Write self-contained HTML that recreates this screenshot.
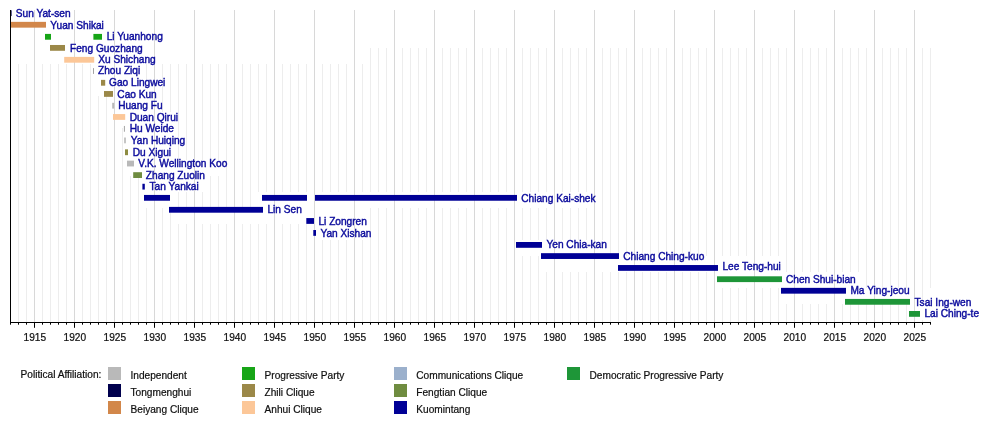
<!DOCTYPE html>
<html><head><meta charset="utf-8"><title>Timeline</title>
<style>
html,body{margin:0;padding:0;background:#fff;}
svg{display:block;}
text{font-family:"Liberation Sans",sans-serif;font-size:10.15px;}
.n{fill:#0b0b9c;stroke:#0b0b9c;stroke-width:0.42px;}
.k{fill:#0e0e0e;stroke:#0e0e0e;stroke-width:0.2px;}
</style></head><body>
<svg width="1000" height="422" viewBox="0 0 1000 422">
<rect width="1000" height="422" fill="#fff"/>
<path d="M18.5 64V322.5M26.5 64V322.5M42.5 64V322.5M50.5 64V322.5M58.5 64V322.5M66.5 64V322.5M82.5 64V322.5M90.5 64V322.5M98.5 96V322.5M106.5 96V322.5M122.5 128V322.5M130.5 176V322.5M138.5 176V322.5M146.5 64V80M146.5 208V322.5M162.5 64V112M162.5 208V322.5M170.5 64V112M170.5 208V322.5M178.5 64V160M178.5 192V208M178.5 224V322.5M186.5 64V160M186.5 192V208M186.5 224V322.5M202.5 64V160M202.5 192V208M202.5 224V322.5M210.5 64V160M210.5 176V208M210.5 224V322.5M218.5 64V160M218.5 176V208M218.5 224V322.5M226.5 64V208M226.5 224V322.5M242.5 64V208M242.5 224V322.5M250.5 64V208M250.5 224V322.5M258.5 64V192M258.5 224V322.5M266.5 64V192M266.5 224V322.5M282.5 64V192M282.5 224V322.5M290.5 64V192M290.5 224V322.5M298.5 64V192M298.5 224V322.5M306.5 64V192M306.5 224V322.5M322.5 64V192M322.5 240V322.5M330.5 64V192M330.5 240V322.5M338.5 64V192M338.5 240V322.5M346.5 64V192M346.5 240V322.5M362.5 64V192M362.5 240V322.5M370.5 48V192M370.5 208V322.5M378.5 48V192M378.5 208V322.5M386.5 48V192M386.5 208V322.5M402.5 48V192M402.5 208V322.5M410.5 48V192M410.5 208V322.5M418.5 48V192M418.5 208V322.5M426.5 48V192M426.5 208V322.5M442.5 48V192M442.5 208V322.5M450.5 48V192M450.5 208V322.5M458.5 48V192M458.5 208V322.5M466.5 48V192M466.5 208V322.5M482.5 48V192M482.5 208V322.5M490.5 48V192M490.5 208V322.5M498.5 48V192M498.5 208V322.5M506.5 48V192M506.5 208V322.5M522.5 48V192M522.5 208V240M522.5 256V322.5M530.5 48V192M530.5 208V240M530.5 256V322.5M538.5 48V192M538.5 208V240M538.5 256V322.5M546.5 48V192M546.5 208V240M546.5 272V322.5M562.5 48V192M562.5 208V240M562.5 272V322.5M570.5 48V192M570.5 208V240M570.5 272V322.5M578.5 48V192M578.5 208V240M578.5 272V322.5M586.5 48V192M586.5 208V240M586.5 272V322.5M602.5 48V240M602.5 272V322.5M610.5 48V256M610.5 272V322.5M618.5 48V256M618.5 272V322.5M626.5 48V256M626.5 272V322.5M642.5 48V256M642.5 272V322.5M650.5 48V256M650.5 272V322.5M658.5 48V256M658.5 272V322.5M666.5 48V256M666.5 272V322.5M682.5 48V256M682.5 272V322.5M690.5 48V256M690.5 272V322.5M698.5 48V256M698.5 272V322.5M706.5 48V256M706.5 272V322.5M722.5 48V256M722.5 288V322.5M730.5 48V256M730.5 288V322.5M738.5 48V256M738.5 288V322.5M746.5 48V256M746.5 288V322.5M762.5 48V256M762.5 288V322.5M770.5 48V256M770.5 288V322.5M778.5 48V256M778.5 288V322.5M786.5 48V272M786.5 304V322.5M802.5 48V272M802.5 304V322.5M810.5 48V272M810.5 304V322.5M818.5 48V272M818.5 304V322.5M826.5 48V272M826.5 304V322.5M842.5 48V272M842.5 304V322.5M850.5 48V272M850.5 304V322.5M858.5 48V272M858.5 304V322.5M866.5 48V288M866.5 304V322.5M882.5 48V288M882.5 304V322.5M890.5 48V288M890.5 304V322.5M898.5 48V288M898.5 304V322.5M906.5 48V288M906.5 304V322.5M922.5 48V304M922.5 320V322.5M930.5 48V288M930.5 320V322.5" stroke="#ededed" stroke-width="1" fill="none"/>
<g><line x1="34.50" y1="10.0" x2="34.50" y2="322.5" stroke="#d8d8d8" stroke-width="1"/>
<line x1="74.50" y1="10.0" x2="74.50" y2="322.5" stroke="#d8d8d8" stroke-width="1"/>
<line x1="114.50" y1="10.0" x2="114.50" y2="322.5" stroke="#d8d8d8" stroke-width="1"/>
<line x1="154.50" y1="10.0" x2="154.50" y2="322.5" stroke="#d8d8d8" stroke-width="1"/>
<line x1="194.50" y1="10.0" x2="194.50" y2="322.5" stroke="#d8d8d8" stroke-width="1"/>
<line x1="234.50" y1="10.0" x2="234.50" y2="322.5" stroke="#d8d8d8" stroke-width="1"/>
<line x1="274.50" y1="10.0" x2="274.50" y2="322.5" stroke="#d8d8d8" stroke-width="1"/>
<line x1="314.50" y1="10.0" x2="314.50" y2="322.5" stroke="#d8d8d8" stroke-width="1"/>
<line x1="354.50" y1="10.0" x2="354.50" y2="322.5" stroke="#d8d8d8" stroke-width="1"/>
<line x1="394.50" y1="10.0" x2="394.50" y2="322.5" stroke="#d8d8d8" stroke-width="1"/>
<line x1="434.50" y1="10.0" x2="434.50" y2="322.5" stroke="#d8d8d8" stroke-width="1"/>
<line x1="474.50" y1="10.0" x2="474.50" y2="322.5" stroke="#d8d8d8" stroke-width="1"/>
<line x1="514.50" y1="10.0" x2="514.50" y2="322.5" stroke="#d8d8d8" stroke-width="1"/>
<line x1="554.50" y1="10.0" x2="554.50" y2="322.5" stroke="#d8d8d8" stroke-width="1"/>
<line x1="594.50" y1="10.0" x2="594.50" y2="322.5" stroke="#d8d8d8" stroke-width="1"/>
<line x1="634.50" y1="10.0" x2="634.50" y2="322.5" stroke="#d8d8d8" stroke-width="1"/>
<line x1="674.50" y1="10.0" x2="674.50" y2="322.5" stroke="#d8d8d8" stroke-width="1"/>
<line x1="714.50" y1="10.0" x2="714.50" y2="322.5" stroke="#d8d8d8" stroke-width="1"/>
<line x1="754.50" y1="10.0" x2="754.50" y2="322.5" stroke="#d8d8d8" stroke-width="1"/>
<line x1="794.50" y1="10.0" x2="794.50" y2="322.5" stroke="#d8d8d8" stroke-width="1"/>
<line x1="834.50" y1="10.0" x2="834.50" y2="322.5" stroke="#d8d8d8" stroke-width="1"/>
<line x1="874.50" y1="10.0" x2="874.50" y2="322.5" stroke="#d8d8d8" stroke-width="1"/>
<line x1="914.50" y1="10.0" x2="914.50" y2="322.5" stroke="#d8d8d8" stroke-width="1"/></g>
<rect x="10.30" y="10.28" width="1.30" height="5.8" fill="#00004d"/>
<text class="n" x="15.85" y="16.85">Sun Yat-sen</text>
<rect x="10.80" y="21.85" width="35.20" height="5.8" fill="#d2874a"/>
<text class="n" x="50.35" y="28.78">Yuan Shikai</text>
<rect x="45.00" y="33.91" width="6.00" height="5.8" fill="#17a517"/>
<rect x="93.40" y="33.91" width="8.60" height="5.8" fill="#17a517"/>
<text class="n" x="106.65" y="39.91">Li Yuanhong</text>
<rect x="50.00" y="44.98" width="15.00" height="5.8" fill="#9b8848"/>
<text class="n" x="70.05" y="52.34">Feng Guozhang</text>
<rect x="64.20" y="56.89" width="30.00" height="5.8" fill="#fcc798"/>
<text class="n" x="98.25" y="63.17">Xu Shichang</text>
<rect x="93.00" y="68.11" width="1.00" height="5.8" fill="#a4a4a4"/>
<text class="n" x="98.05" y="74.30">Zhou Ziqi</text>
<rect x="101.00" y="79.88" width="4.20" height="5.8" fill="#9b8848"/>
<text class="n" x="109.05" y="85.63">Gao Lingwei</text>
<rect x="104.00" y="91.04" width="9.00" height="5.8" fill="#9b8848"/>
<text class="n" x="117.35" y="97.56">Cao Kun</text>
<rect x="112.20" y="102.81" width="2.00" height="5.8" fill="#b9b9b9"/>
<text class="n" x="118.15" y="108.59">Huang Fu</text>
<rect x="113.00" y="114.07" width="12.20" height="5.8" fill="#fcc798"/>
<text class="n" x="129.65" y="120.62">Duan Qirui</text>
<rect x="123.90" y="125.94" width="1.00" height="5.8" fill="#a4a4a4"/>
<text class="n" x="129.65" y="132.15">Hu Weide</text>
<rect x="124.20" y="137.51" width="1.60" height="5.8" fill="#b9b9b9"/>
<text class="n" x="130.85" y="143.68">Yan Huiqing</text>
<rect x="125.00" y="149.37" width="3.00" height="5.8" fill="#8e8c42"/>
<text class="n" x="132.75" y="156.21">Du Xigui</text>
<rect x="127.00" y="160.64" width="7.00" height="5.8" fill="#b9b9b9"/>
<text class="n" x="138.35" y="166.74">V.K. Wellington Koo</text>
<rect x="133.20" y="172.20" width="8.80" height="5.8" fill="#6f8c40"/>
<text class="n" x="145.85" y="179.27">Zhang Zuolin</text>
<rect x="142.40" y="183.77" width="2.40" height="5.8" fill="#000096"/>
<text class="n" x="149.55" y="190.10">Tan Yankai</text>
<rect x="144.00" y="194.94" width="26.00" height="5.8" fill="#000096"/>
<rect x="262.00" y="194.94" width="45.00" height="5.8" fill="#000096"/>
<rect x="315.00" y="194.94" width="202.00" height="5.8" fill="#000096"/>
<text class="n" x="521.25" y="201.63">Chiang Kai-shek</text>
<rect x="169.00" y="206.90" width="94.00" height="5.8" fill="#000096"/>
<text class="n" x="267.45" y="212.66">Lin Sen</text>
<rect x="306.30" y="218.07" width="7.70" height="5.8" fill="#000096"/>
<text class="n" x="318.45" y="225.09">Li Zongren</text>
<rect x="313.30" y="230.03" width="2.70" height="5.8" fill="#000096"/>
<text class="n" x="320.45" y="236.62">Yan Xishan</text>
<rect x="516.00" y="242.00" width="26.00" height="5.8" fill="#000096"/>
<text class="n" x="546.45" y="248.15">Yen Chia-kan</text>
<rect x="541.00" y="253.17" width="78.00" height="5.8" fill="#000096"/>
<text class="n" x="623.25" y="259.58">Chiang Ching-kuo</text>
<rect x="618.00" y="265.03" width="100.00" height="5.8" fill="#000096"/>
<text class="n" x="722.45" y="270.31">Lee Teng-hui</text>
<rect x="717.00" y="276.30" width="65.00" height="5.8" fill="#1e9638"/>
<text class="n" x="785.95" y="283.04">Chen Shui-bian</text>
<rect x="781.00" y="287.86" width="65.00" height="5.8" fill="#000096"/>
<text class="n" x="850.45" y="293.57">Ma Ying-jeou</text>
<rect x="845.00" y="298.93" width="65.00" height="5.8" fill="#1e9638"/>
<text class="n" x="914.55" y="305.70">Tsai Ing-wen</text>
<rect x="909.00" y="311.00" width="11.00" height="5.8" fill="#1e9638"/>
<text class="n" x="924.45" y="316.63">Lai Ching-te</text>
<line x1="10.5" y1="10.0" x2="10.5" y2="323.0" stroke="#000" stroke-width="1"/>
<line x1="10.0" y1="322.5" x2="931.0" y2="322.5" stroke="#000" stroke-width="1"/>
<g><line x1="10.50" y1="322.5" x2="10.50" y2="324.7" stroke="#000" stroke-width="1"/>
<line x1="18.50" y1="322.5" x2="18.50" y2="324.7" stroke="#000" stroke-width="1"/>
<line x1="26.50" y1="322.5" x2="26.50" y2="324.7" stroke="#000" stroke-width="1"/>
<line x1="34.50" y1="322.5" x2="34.50" y2="327.8" stroke="#000" stroke-width="1"/>
<text class="k" x="34.80" y="341" text-anchor="middle">1915</text>
<line x1="42.50" y1="322.5" x2="42.50" y2="324.7" stroke="#000" stroke-width="1"/>
<line x1="50.50" y1="322.5" x2="50.50" y2="324.7" stroke="#000" stroke-width="1"/>
<line x1="58.50" y1="322.5" x2="58.50" y2="324.7" stroke="#000" stroke-width="1"/>
<line x1="66.50" y1="322.5" x2="66.50" y2="324.7" stroke="#000" stroke-width="1"/>
<line x1="74.50" y1="322.5" x2="74.50" y2="327.8" stroke="#000" stroke-width="1"/>
<text class="k" x="74.80" y="341" text-anchor="middle">1920</text>
<line x1="82.50" y1="322.5" x2="82.50" y2="324.7" stroke="#000" stroke-width="1"/>
<line x1="90.50" y1="322.5" x2="90.50" y2="324.7" stroke="#000" stroke-width="1"/>
<line x1="98.50" y1="322.5" x2="98.50" y2="324.7" stroke="#000" stroke-width="1"/>
<line x1="106.50" y1="322.5" x2="106.50" y2="324.7" stroke="#000" stroke-width="1"/>
<line x1="114.50" y1="322.5" x2="114.50" y2="327.8" stroke="#000" stroke-width="1"/>
<text class="k" x="114.80" y="341" text-anchor="middle">1925</text>
<line x1="122.50" y1="322.5" x2="122.50" y2="324.7" stroke="#000" stroke-width="1"/>
<line x1="130.50" y1="322.5" x2="130.50" y2="324.7" stroke="#000" stroke-width="1"/>
<line x1="138.50" y1="322.5" x2="138.50" y2="324.7" stroke="#000" stroke-width="1"/>
<line x1="146.50" y1="322.5" x2="146.50" y2="324.7" stroke="#000" stroke-width="1"/>
<line x1="154.50" y1="322.5" x2="154.50" y2="327.8" stroke="#000" stroke-width="1"/>
<text class="k" x="154.80" y="341" text-anchor="middle">1930</text>
<line x1="162.50" y1="322.5" x2="162.50" y2="324.7" stroke="#000" stroke-width="1"/>
<line x1="170.50" y1="322.5" x2="170.50" y2="324.7" stroke="#000" stroke-width="1"/>
<line x1="178.50" y1="322.5" x2="178.50" y2="324.7" stroke="#000" stroke-width="1"/>
<line x1="186.50" y1="322.5" x2="186.50" y2="324.7" stroke="#000" stroke-width="1"/>
<line x1="194.50" y1="322.5" x2="194.50" y2="327.8" stroke="#000" stroke-width="1"/>
<text class="k" x="194.80" y="341" text-anchor="middle">1935</text>
<line x1="202.50" y1="322.5" x2="202.50" y2="324.7" stroke="#000" stroke-width="1"/>
<line x1="210.50" y1="322.5" x2="210.50" y2="324.7" stroke="#000" stroke-width="1"/>
<line x1="218.50" y1="322.5" x2="218.50" y2="324.7" stroke="#000" stroke-width="1"/>
<line x1="226.50" y1="322.5" x2="226.50" y2="324.7" stroke="#000" stroke-width="1"/>
<line x1="234.50" y1="322.5" x2="234.50" y2="327.8" stroke="#000" stroke-width="1"/>
<text class="k" x="234.80" y="341" text-anchor="middle">1940</text>
<line x1="242.50" y1="322.5" x2="242.50" y2="324.7" stroke="#000" stroke-width="1"/>
<line x1="250.50" y1="322.5" x2="250.50" y2="324.7" stroke="#000" stroke-width="1"/>
<line x1="258.50" y1="322.5" x2="258.50" y2="324.7" stroke="#000" stroke-width="1"/>
<line x1="266.50" y1="322.5" x2="266.50" y2="324.7" stroke="#000" stroke-width="1"/>
<line x1="274.50" y1="322.5" x2="274.50" y2="327.8" stroke="#000" stroke-width="1"/>
<text class="k" x="274.80" y="341" text-anchor="middle">1945</text>
<line x1="282.50" y1="322.5" x2="282.50" y2="324.7" stroke="#000" stroke-width="1"/>
<line x1="290.50" y1="322.5" x2="290.50" y2="324.7" stroke="#000" stroke-width="1"/>
<line x1="298.50" y1="322.5" x2="298.50" y2="324.7" stroke="#000" stroke-width="1"/>
<line x1="306.50" y1="322.5" x2="306.50" y2="324.7" stroke="#000" stroke-width="1"/>
<line x1="314.50" y1="322.5" x2="314.50" y2="327.8" stroke="#000" stroke-width="1"/>
<text class="k" x="314.80" y="341" text-anchor="middle">1950</text>
<line x1="322.50" y1="322.5" x2="322.50" y2="324.7" stroke="#000" stroke-width="1"/>
<line x1="330.50" y1="322.5" x2="330.50" y2="324.7" stroke="#000" stroke-width="1"/>
<line x1="338.50" y1="322.5" x2="338.50" y2="324.7" stroke="#000" stroke-width="1"/>
<line x1="346.50" y1="322.5" x2="346.50" y2="324.7" stroke="#000" stroke-width="1"/>
<line x1="354.50" y1="322.5" x2="354.50" y2="327.8" stroke="#000" stroke-width="1"/>
<text class="k" x="354.80" y="341" text-anchor="middle">1955</text>
<line x1="362.50" y1="322.5" x2="362.50" y2="324.7" stroke="#000" stroke-width="1"/>
<line x1="370.50" y1="322.5" x2="370.50" y2="324.7" stroke="#000" stroke-width="1"/>
<line x1="378.50" y1="322.5" x2="378.50" y2="324.7" stroke="#000" stroke-width="1"/>
<line x1="386.50" y1="322.5" x2="386.50" y2="324.7" stroke="#000" stroke-width="1"/>
<line x1="394.50" y1="322.5" x2="394.50" y2="327.8" stroke="#000" stroke-width="1"/>
<text class="k" x="394.80" y="341" text-anchor="middle">1960</text>
<line x1="402.50" y1="322.5" x2="402.50" y2="324.7" stroke="#000" stroke-width="1"/>
<line x1="410.50" y1="322.5" x2="410.50" y2="324.7" stroke="#000" stroke-width="1"/>
<line x1="418.50" y1="322.5" x2="418.50" y2="324.7" stroke="#000" stroke-width="1"/>
<line x1="426.50" y1="322.5" x2="426.50" y2="324.7" stroke="#000" stroke-width="1"/>
<line x1="434.50" y1="322.5" x2="434.50" y2="327.8" stroke="#000" stroke-width="1"/>
<text class="k" x="434.80" y="341" text-anchor="middle">1965</text>
<line x1="442.50" y1="322.5" x2="442.50" y2="324.7" stroke="#000" stroke-width="1"/>
<line x1="450.50" y1="322.5" x2="450.50" y2="324.7" stroke="#000" stroke-width="1"/>
<line x1="458.50" y1="322.5" x2="458.50" y2="324.7" stroke="#000" stroke-width="1"/>
<line x1="466.50" y1="322.5" x2="466.50" y2="324.7" stroke="#000" stroke-width="1"/>
<line x1="474.50" y1="322.5" x2="474.50" y2="327.8" stroke="#000" stroke-width="1"/>
<text class="k" x="474.80" y="341" text-anchor="middle">1970</text>
<line x1="482.50" y1="322.5" x2="482.50" y2="324.7" stroke="#000" stroke-width="1"/>
<line x1="490.50" y1="322.5" x2="490.50" y2="324.7" stroke="#000" stroke-width="1"/>
<line x1="498.50" y1="322.5" x2="498.50" y2="324.7" stroke="#000" stroke-width="1"/>
<line x1="506.50" y1="322.5" x2="506.50" y2="324.7" stroke="#000" stroke-width="1"/>
<line x1="514.50" y1="322.5" x2="514.50" y2="327.8" stroke="#000" stroke-width="1"/>
<text class="k" x="514.80" y="341" text-anchor="middle">1975</text>
<line x1="522.50" y1="322.5" x2="522.50" y2="324.7" stroke="#000" stroke-width="1"/>
<line x1="530.50" y1="322.5" x2="530.50" y2="324.7" stroke="#000" stroke-width="1"/>
<line x1="538.50" y1="322.5" x2="538.50" y2="324.7" stroke="#000" stroke-width="1"/>
<line x1="546.50" y1="322.5" x2="546.50" y2="324.7" stroke="#000" stroke-width="1"/>
<line x1="554.50" y1="322.5" x2="554.50" y2="327.8" stroke="#000" stroke-width="1"/>
<text class="k" x="554.80" y="341" text-anchor="middle">1980</text>
<line x1="562.50" y1="322.5" x2="562.50" y2="324.7" stroke="#000" stroke-width="1"/>
<line x1="570.50" y1="322.5" x2="570.50" y2="324.7" stroke="#000" stroke-width="1"/>
<line x1="578.50" y1="322.5" x2="578.50" y2="324.7" stroke="#000" stroke-width="1"/>
<line x1="586.50" y1="322.5" x2="586.50" y2="324.7" stroke="#000" stroke-width="1"/>
<line x1="594.50" y1="322.5" x2="594.50" y2="327.8" stroke="#000" stroke-width="1"/>
<text class="k" x="594.80" y="341" text-anchor="middle">1985</text>
<line x1="602.50" y1="322.5" x2="602.50" y2="324.7" stroke="#000" stroke-width="1"/>
<line x1="610.50" y1="322.5" x2="610.50" y2="324.7" stroke="#000" stroke-width="1"/>
<line x1="618.50" y1="322.5" x2="618.50" y2="324.7" stroke="#000" stroke-width="1"/>
<line x1="626.50" y1="322.5" x2="626.50" y2="324.7" stroke="#000" stroke-width="1"/>
<line x1="634.50" y1="322.5" x2="634.50" y2="327.8" stroke="#000" stroke-width="1"/>
<text class="k" x="634.80" y="341" text-anchor="middle">1990</text>
<line x1="642.50" y1="322.5" x2="642.50" y2="324.7" stroke="#000" stroke-width="1"/>
<line x1="650.50" y1="322.5" x2="650.50" y2="324.7" stroke="#000" stroke-width="1"/>
<line x1="658.50" y1="322.5" x2="658.50" y2="324.7" stroke="#000" stroke-width="1"/>
<line x1="666.50" y1="322.5" x2="666.50" y2="324.7" stroke="#000" stroke-width="1"/>
<line x1="674.50" y1="322.5" x2="674.50" y2="327.8" stroke="#000" stroke-width="1"/>
<text class="k" x="674.80" y="341" text-anchor="middle">1995</text>
<line x1="682.50" y1="322.5" x2="682.50" y2="324.7" stroke="#000" stroke-width="1"/>
<line x1="690.50" y1="322.5" x2="690.50" y2="324.7" stroke="#000" stroke-width="1"/>
<line x1="698.50" y1="322.5" x2="698.50" y2="324.7" stroke="#000" stroke-width="1"/>
<line x1="706.50" y1="322.5" x2="706.50" y2="324.7" stroke="#000" stroke-width="1"/>
<line x1="714.50" y1="322.5" x2="714.50" y2="327.8" stroke="#000" stroke-width="1"/>
<text class="k" x="714.80" y="341" text-anchor="middle">2000</text>
<line x1="722.50" y1="322.5" x2="722.50" y2="324.7" stroke="#000" stroke-width="1"/>
<line x1="730.50" y1="322.5" x2="730.50" y2="324.7" stroke="#000" stroke-width="1"/>
<line x1="738.50" y1="322.5" x2="738.50" y2="324.7" stroke="#000" stroke-width="1"/>
<line x1="746.50" y1="322.5" x2="746.50" y2="324.7" stroke="#000" stroke-width="1"/>
<line x1="754.50" y1="322.5" x2="754.50" y2="327.8" stroke="#000" stroke-width="1"/>
<text class="k" x="754.80" y="341" text-anchor="middle">2005</text>
<line x1="762.50" y1="322.5" x2="762.50" y2="324.7" stroke="#000" stroke-width="1"/>
<line x1="770.50" y1="322.5" x2="770.50" y2="324.7" stroke="#000" stroke-width="1"/>
<line x1="778.50" y1="322.5" x2="778.50" y2="324.7" stroke="#000" stroke-width="1"/>
<line x1="786.50" y1="322.5" x2="786.50" y2="324.7" stroke="#000" stroke-width="1"/>
<line x1="794.50" y1="322.5" x2="794.50" y2="327.8" stroke="#000" stroke-width="1"/>
<text class="k" x="794.80" y="341" text-anchor="middle">2010</text>
<line x1="802.50" y1="322.5" x2="802.50" y2="324.7" stroke="#000" stroke-width="1"/>
<line x1="810.50" y1="322.5" x2="810.50" y2="324.7" stroke="#000" stroke-width="1"/>
<line x1="818.50" y1="322.5" x2="818.50" y2="324.7" stroke="#000" stroke-width="1"/>
<line x1="826.50" y1="322.5" x2="826.50" y2="324.7" stroke="#000" stroke-width="1"/>
<line x1="834.50" y1="322.5" x2="834.50" y2="327.8" stroke="#000" stroke-width="1"/>
<text class="k" x="834.80" y="341" text-anchor="middle">2015</text>
<line x1="842.50" y1="322.5" x2="842.50" y2="324.7" stroke="#000" stroke-width="1"/>
<line x1="850.50" y1="322.5" x2="850.50" y2="324.7" stroke="#000" stroke-width="1"/>
<line x1="858.50" y1="322.5" x2="858.50" y2="324.7" stroke="#000" stroke-width="1"/>
<line x1="866.50" y1="322.5" x2="866.50" y2="324.7" stroke="#000" stroke-width="1"/>
<line x1="874.50" y1="322.5" x2="874.50" y2="327.8" stroke="#000" stroke-width="1"/>
<text class="k" x="874.80" y="341" text-anchor="middle">2020</text>
<line x1="882.50" y1="322.5" x2="882.50" y2="324.7" stroke="#000" stroke-width="1"/>
<line x1="890.50" y1="322.5" x2="890.50" y2="324.7" stroke="#000" stroke-width="1"/>
<line x1="898.50" y1="322.5" x2="898.50" y2="324.7" stroke="#000" stroke-width="1"/>
<line x1="906.50" y1="322.5" x2="906.50" y2="324.7" stroke="#000" stroke-width="1"/>
<line x1="914.50" y1="322.5" x2="914.50" y2="327.8" stroke="#000" stroke-width="1"/>
<text class="k" x="914.80" y="341" text-anchor="middle">2025</text>
<line x1="922.50" y1="322.5" x2="922.50" y2="324.7" stroke="#000" stroke-width="1"/>
<line x1="930.50" y1="322.5" x2="930.50" y2="324.7" stroke="#000" stroke-width="1"/></g>
<text class="k" x="20.5" y="378.2">Political Affiliation:</text>
<rect x="108" y="367" width="13" height="13" fill="#b9b9b9"/>
<text class="k" x="130.5" y="379.2">Independent</text>
<rect x="108" y="384" width="13" height="13" fill="#00004d"/>
<text class="k" x="130.5" y="396.2">Tongmenghui</text>
<rect x="108" y="401" width="13" height="13" fill="#d2874a"/>
<text class="k" x="130.5" y="413.2">Beiyang Clique</text>
<rect x="242" y="367" width="13" height="13" fill="#17a517"/>
<text class="k" x="264.5" y="379.2">Progressive Party</text>
<rect x="242" y="384" width="13" height="13" fill="#9b8848"/>
<text class="k" x="264.5" y="396.2">Zhili Clique</text>
<rect x="242" y="401" width="13" height="13" fill="#fcc798"/>
<text class="k" x="264.5" y="413.2">Anhui Clique</text>
<rect x="394" y="367" width="13" height="13" fill="#9bb0cc"/>
<text class="k" x="416.3" y="379.2">Communications Clique</text>
<rect x="394" y="384" width="13" height="13" fill="#6f8c40"/>
<text class="k" x="416.3" y="396.2">Fengtian Clique</text>
<rect x="394" y="401" width="13" height="13" fill="#000096"/>
<text class="k" x="416.3" y="413.2">Kuomintang</text>
<rect x="567" y="367" width="13" height="13" fill="#1e9638"/>
<text class="k" x="589.5" y="379.2">Democratic Progressive Party</text>
</svg>
</body></html>
